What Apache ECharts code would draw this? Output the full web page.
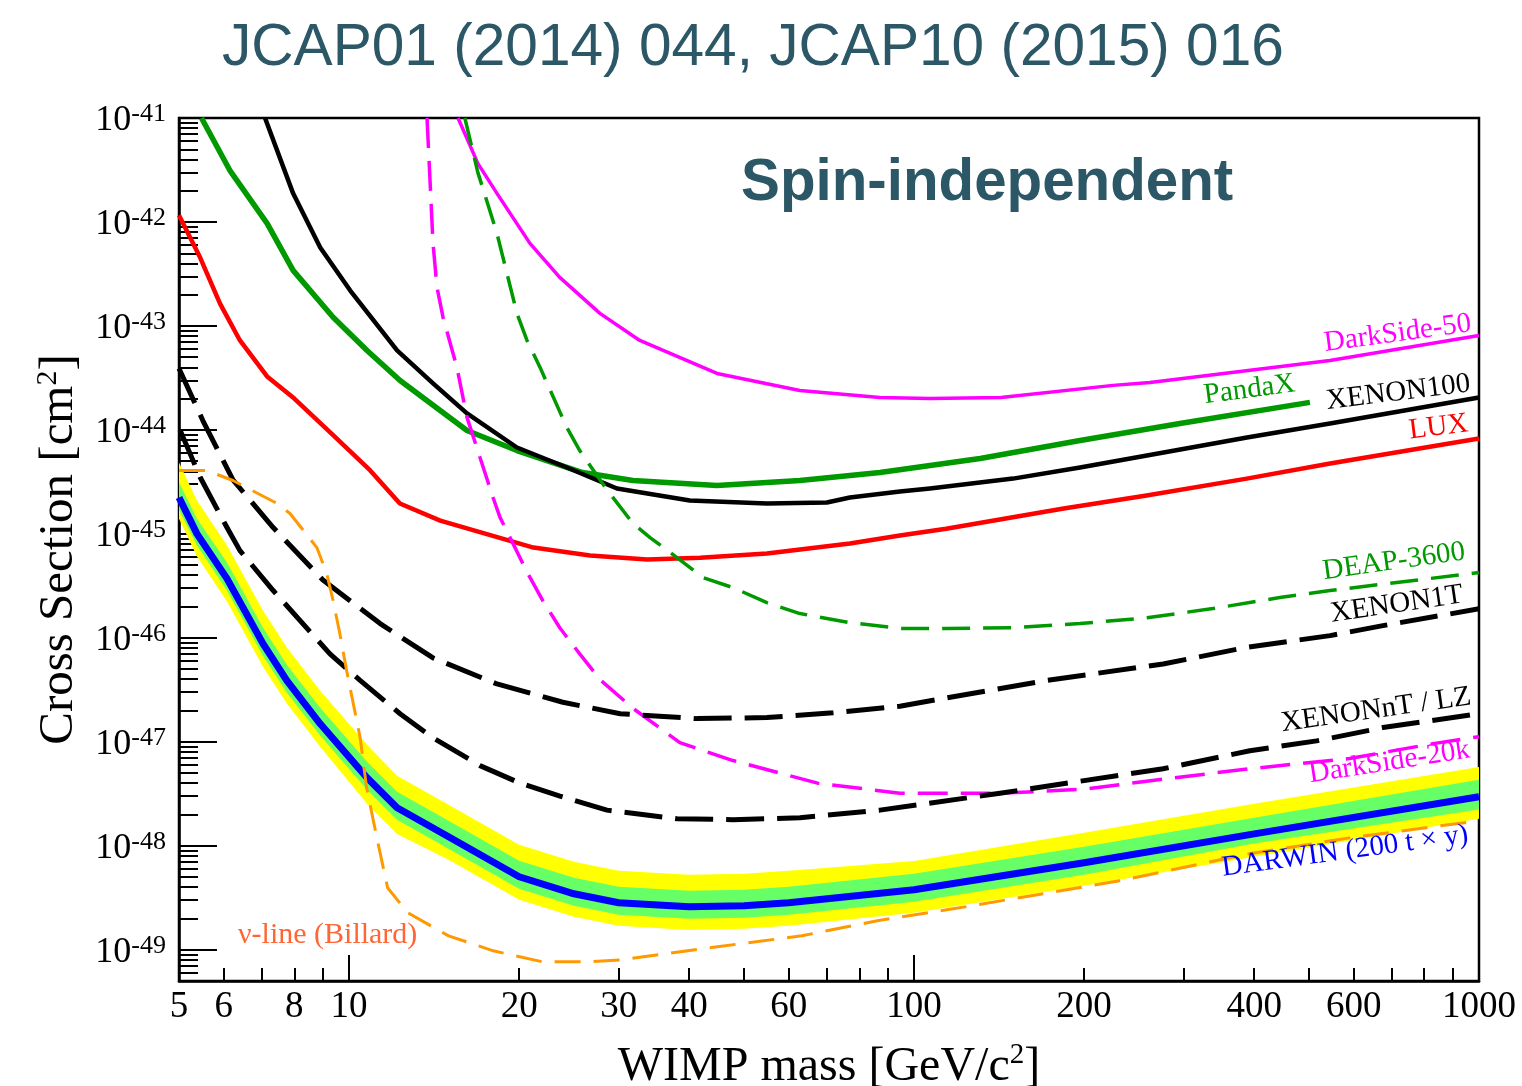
<!DOCTYPE html>
<html>
<head>
<meta charset="utf-8">
<script src="https://cdn.jsdelivr.net/npm/echarts@6/dist/echarts.min.js"></script>
<style>
  html, body { margin: 0; padding: 0; background: #ffffff; }
  #chart { width: 1522px; height: 1086px; }
</style>
</head>
<body>
<div id="chart"></div>
<script>
// ---- Exclusion limits: WIMP mass [GeV/c^2] vs. SI cross section [cm^2] ----
const luxMass  = [5, 5.45, 5.91, 6.41, 7.16, 8.0, 9.37, 10.9, 12.3, 14.5, 21.2, 26.7, 33.7, 41.8, 54.9, 77, 94.4, 114, 184, 258, 388, 545, 1000];
const luxSigma = [1.16e-42, 4.54e-43, 1.64e-43, 7.25e-44, 3.27e-44, 2.0e-44, 8.9e-45, 4.07e-45, 1.96e-45, 1.34e-45, 7.38e-46, 6.18e-46, 5.66e-46, 5.9e-46, 6.46e-46, 8.06e-46, 9.63e-46, 1.12e-45, 1.75e-45, 2.34e-45, 3.4e-45, 4.75e-45, 8.26e-45];

const xenon100Mass  = [7.10, 7.96, 8.89, 10.04, 12.16, 14.08, 16.17, 19.82, 24.3, 29.8, 40.1, 54.9, 70.1, 77.0, 94.4, 106.7, 149.7, 196.7, 258.4, 388.4, 544.7, 1000];
const xenon100Sigma = [1e-41, 1.885e-42, 5.69e-43, 2.20e-43, 5.81e-44, 2.80e-44, 1.44e-44, 6.77e-45, 4.35e-45, 2.73e-45, 2.09e-45, 1.96e-45, 2.0e-45, 2.24e-45, 2.55e-45, 2.73e-45, 3.40e-45, 4.35e-45, 5.67e-45, 8.45e-45, 1.15e-44, 2.05e-44];

const pandaxMass  = [5.48, 6.15, 7.16, 7.96, 9.37, 10.76, 12.31, 16.17, 19.82, 25.9, 31.8, 44.8, 62.8, 87.0, 130.9, 196.7, 295.5, 502];
const pandaxSigma = [1e-41, 3.14e-42, 9.69e-43, 3.42e-43, 1.21e-43, 5.81e-44, 2.99e-44, 9.87e-45, 6.33e-45, 3.89e-45, 3.26e-45, 2.92e-45, 3.26e-45, 3.89e-45, 5.31e-45, 7.91e-45, 1.15e-44, 1.84e-44];

const deapMass  = [16.03, 16.9, 18.27, 19.82, 20.65, 21.78, 24.3, 25.6, 28.1, 29.3, 31.8, 34.1, 38.05, 42.3, 47.8, 54.9, 62.8, 77.0, 94.4, 114.4, 149.7, 196.7, 258.4, 338, 444, 544.7, 1000];
const deapSigma = [1e-41, 3.0e-42, 7.77e-43, 1.32e-43, 7.25e-44, 3.99e-44, 1.05e-44, 6.33e-45, 3.05e-45, 2.24e-45, 1.26e-45, 9.21e-46, 5.91e-46, 3.80e-46, 3.04e-46, 2.18e-46, 1.71e-46, 1.40e-46, 1.23e-46, 1.23e-46, 1.25e-46, 1.37e-46, 1.56e-46, 1.91e-46, 2.44e-46, 2.85e-46, 4.24e-46];

const ds50Mass  = [15.59, 16.9, 18.27, 20.9, 23.6, 27.8, 32.7, 44.8, 62.8, 87.0, 106.7, 142.5, 225, 261.5, 544.7, 1000];
const ds50Sigma = [1e-41, 3.66e-42, 1.885e-42, 6.22e-43, 2.93e-43, 1.32e-43, 7.25e-44, 3.49e-44, 2.39e-44, 2.05e-44, 2.0e-44, 2.05e-44, 2.68e-44, 2.86e-44, 4.66e-44, 8.1e-44];

const ds20kMass  = [13.74, 14.08, 14.31, 14.67, 15.52, 16.17, 16.9, 18.0, 18.5, 19.5, 20.6, 22.0, 23.6, 25.6, 27.9, 31.8, 38.5, 47.8, 67.5, 94.4, 142.5, 200, 260, 392, 590, 830, 1000];
const ds20kSigma = [1e-41, 6.2e-43, 2.35e-43, 1.2e-43, 4.0e-44, 1.32e-44, 6.3e-45, 2.2e-45, 1.44e-45, 8.1e-46, 4.4e-46, 2.3e-46, 1.25e-46, 7.0e-47, 3.9e-47, 2.1e-47, 9.8e-48, 6.6e-48, 4.0e-48, 3.2e-48, 3.2e-48, 3.5e-48, 4.2e-48, 5.5e-48, 6.9e-48, 9.6e-48, 1.12e-47];

const xenon1tMass  = [5, 5.51, 6.23, 7.34, 8.99, 11.35, 14.08, 18.27, 23.9, 30.2, 41.3, 54.9, 71.9, 94.4, 172, 276, 388, 545, 676, 1000];
const xenon1tSigma = [3.9e-44, 1.23e-44, 3.3e-45, 1.15e-45, 3.6e-46, 1.37e-46, 6.4e-47, 3.6e-47, 2.4e-47, 1.86e-47, 1.67e-47, 1.71e-47, 1.9e-47, 2.2e-47, 3.9e-47, 5.6e-47, 8.1e-47, 1.05e-46, 1.31e-46, 1.9e-46];

const xenonntMass  = [5.02, 5.45, 6.08, 6.41, 7.34, 9.25, 10.46, 12.31, 14.08, 17.05, 20.07, 23.62, 28.6, 38.05, 47.8, 62.8, 87.0, 142, 276, 393, 516, 676, 1000];
const xenonntSigma = [1.0e-44, 3.5e-45, 1.15e-45, 6.9e-46, 2.85e-46, 7.0e-47, 3.9e-47, 1.86e-47, 1.09e-47, 5.9e-48, 4.0e-48, 3.0e-48, 2.2e-48, 1.82e-48, 1.78e-48, 1.86e-48, 2.2e-48, 3.2e-48, 5.5e-48, 8.2e-48, 1.02e-47, 1.37e-47, 1.86e-47];

// DARWIN (200 t x y) median sensitivity with 1 and 2 sigma bands
const darwinMass    = [5, 5.38, 6.08, 7.04, 7.76, 8.89, 10.76, 12.16, 15, 20, 25, 30, 40, 50, 60, 100, 200, 400, 1000];
const darwinMedian  = [2.24e-45, 1.0e-45, 3.71e-46, 8.8e-47, 3.87e-47, 1.49e-47, 4.51e-48, 2.32e-48, 1.22e-48, 5.03e-49, 3.45e-49, 2.83e-49, 2.59e-49, 2.65e-49, 2.83e-49, 3.77e-49, 6.86e-49, 1.30e-48, 2.96e-48];
const darwin2sUpper = [4.86e-45, 2.09e-45, 7.72e-46, 1.83e-46, 8.05e-47, 3.10e-47, 9.38e-48, 4.72e-48, 2.48e-48, 1.02e-48, 7.0e-49, 5.74e-49, 5.26e-49, 5.37e-49, 5.74e-49, 7.14e-49, 1.33e-48, 2.53e-48, 5.73e-48];
const darwin1sUpper = [3.12e-45, 1.40e-45, 5.29e-46, 1.25e-46, 5.52e-47, 2.13e-47, 6.43e-48, 3.31e-48, 1.74e-48, 7.17e-49, 4.92e-49, 4.03e-49, 3.69e-49, 3.77e-49, 4.03e-49, 5.37e-49, 9.78e-49, 1.86e-48, 4.32e-48];
const darwin1sLower = [1.71e-45, 7.72e-46, 2.85e-46, 6.74e-47, 2.97e-47, 1.15e-47, 3.46e-48, 1.78e-48, 9.36e-49, 3.86e-49, 2.65e-49, 2.17e-49, 1.98e-49, 2.03e-49, 2.17e-49, 2.89e-49, 5.26e-49, 1.05e-48, 2.23e-48];
const darwin2sLower = [1.40e-45, 6.05e-46, 2.23e-46, 5.28e-47, 2.33e-47, 8.97e-48, 2.53e-48, 1.30e-48, 7.33e-49, 3.02e-49, 2.07e-49, 1.70e-49, 1.55e-49, 1.59e-49, 1.70e-49, 2.27e-49, 4.13e-49, 7.85e-49, 1.82e-48];

// Coherent neutrino scattering floor
const nuMass  = [5, 5.6, 6.23, 7.46, 7.86, 8.77, 9.13, 9.37, 9.63, 9.9, 10.46, 10.74, 11.2, 11.7, 12.7, 15, 18.0, 22.0, 26.3, 30.3, 42.0, 63.3, 86.1, 120.3, 231, 392, 590, 1000];
const nuSigma = [4.07e-45, 4.07e-45, 3.26e-45, 1.96e-45, 1.57e-45, 7.38e-46, 4.15e-46, 2.28e-46, 1.10e-46, 4.84e-47, 1.10e-47, 3.62e-48, 1.19e-48, 3.94e-49, 2.27e-49, 1.36e-49, 9.76e-50, 7.65e-50, 7.65e-50, 7.99e-50, 1.02e-49, 1.36e-49, 1.90e-49, 2.53e-49, 4.60e-49, 8.37e-49, 1.19e-48, 1.74e-48];

// ---- Axis ranges, ticks and labels ----
const xRange = [5, 1000];
const xLabelValues = [5, 6, 8, 10, 20, 30, 40, 60, 100, 200, 400, 600, 1000];
const xMajorTicks  = [10, 100, 1000];
const xMinorTicks  = [6, 7, 8, 9, 20, 30, 40, 50, 60, 70, 80, 90, 200, 300, 400, 500, 600, 700, 800, 900];
const yRange = [5e-50, 1e-41];
const yExponents = [-49, -48, -47, -46, -45, -44, -43, -42, -41];

// Cross sections are plotted in units of 1e-50 cm^2 so the log axis
// works with ordinary magnitudes; labels are written back in cm^2.
const SIGMA_UNIT_EXP = -50;
const SIGMA_UNIT = 1e-50;
const toUnit = s => s / SIGMA_UNIT;

const yMajorTicks = yExponents.map(e => Math.pow(10, e - SIGMA_UNIT_EXP));
const yMinorTicks = [];
for (let e = 0; e <= 8; e++) {
  for (let k = 2; k <= 9; k++) {
    if (e === 0 && k < 6) continue;
    yMinorTicks.push(k * Math.pow(10, e));
  }
}

const SERIF = '"Liberation Serif", "Times New Roman", serif';
const SANS = '"Liberation Sans", Arial, sans-serif';
const TEAL = '#2b5766';

const pairs = (xs, ys) => xs.map((x, i) => [x, toUnit(ys[i])]);

function limitLine(name, xs, ys, color, width, dash, z) {
  return {
    name, type: 'line', xAxisIndex: 0, yAxisIndex: 0,
    data: pairs(xs, ys),
    showSymbol: false, symbol: 'none', smooth: false, clip: true, silent: true,
    z: z || 3,
    lineStyle: { color, width, type: dash || 'solid', cap: 'butt', join: 'round' }
  };
}

function band(name, upper, lower, color, z) {
  return {
    name, type: 'custom', xAxisIndex: 0, yAxisIndex: 0, z, clip: true, silent: true,
    data: [[100, 1e5]], encode: { x: 0, y: 1 },
    renderItem: (params, api) => {
      const pts = [];
      for (let i = 0; i < darwinMass.length; i++) pts.push(api.coord([darwinMass[i], toUnit(upper[i])]));
      for (let i = darwinMass.length - 1; i >= 0; i--) pts.push(api.coord([darwinMass[i], toUnit(lower[i])]));
      return { type: 'polygon', shape: { points: pts }, style: { fill: color, stroke: null } };
    }
  };
}

const deg = d => d * Math.PI / 180;
function curveLabel(text, x, y, color, angle, align, size) {
  return {
    type: 'text', x, y, rotation: deg(angle || 0), silent: true, z: 50,
    style: {
      text, fill: color, font: (size || 29) + 'px ' + SERIF,
      textAlign: align || 'right', align: align || 'right',
      textVerticalAlign: 'bottom', verticalAlign: 'bottom'
    }
  };
}

const supRich = (base, sup) => ({
  a: { fontFamily: SERIF, fontSize: base, color: '#000', lineHeight: base + 4 },
  s: { fontFamily: SERIF, fontSize: sup, color: '#000', verticalAlign: 'top', lineHeight: sup + 2 }
});

const chart = echarts.init(document.getElementById('chart'), null, { renderer: 'canvas' });

chart.setOption({
  animation: false,
  backgroundColor: '#ffffff',
  grid: {
    left: 179, right: 43, top: 118, bottom: 105,
    containLabel: false, outerBoundsMode: 'none',
    show: true, borderColor: '#000', borderWidth: 2.5, backgroundColor: 'transparent'
  },
  xAxis: [
    {
      type: 'log', logBase: 10, min: xRange[0], max: xRange[1], position: 'bottom',
      name: '{a|WIMP mass [GeV/c}{s|2}{a|]}', nameLocation: 'middle', nameGap: 60,
      nameTextStyle: { color: '#000', rich: supRich(48, 29) },
      axisLine: { show: true, lineStyle: { color: '#000', width: 2.5 } },
      axisTick: { show: true, inside: true, length: 26, customValues: xMajorTicks, lineStyle: { color: '#000', width: 2 } },
      axisLabel: { show: true, customValues: xLabelValues, margin: 8, color: '#000', fontFamily: SERIF, fontSize: 37, formatter: v => String(Math.round(v)) },
      splitLine: { show: false }, minorTick: { show: false }, minorSplitLine: { show: false }
    },
    {
      type: 'log', logBase: 10, min: xRange[0], max: xRange[1], position: 'bottom',
      axisLine: { show: false },
      axisTick: { show: true, inside: true, length: 13, customValues: xMinorTicks, lineStyle: { color: '#000', width: 2 } },
      axisLabel: { show: false }, splitLine: { show: false }
    }
  ],
  yAxis: [
    {
      type: 'log', logBase: 10, min: toUnit(yRange[0]), max: toUnit(yRange[1]), position: 'left',
      name: '{a|Cross Section [cm}{s|2}{a|]}', nameLocation: 'middle', nameRotate: 90, nameGap: 93,
      nameTextStyle: { color: '#000', rich: supRich(49, 30) },
      axisLine: { show: true, lineStyle: { color: '#000', width: 2.5 } },
      axisTick: { show: true, inside: true, length: 38, customValues: yMajorTicks, lineStyle: { color: '#000', width: 2 } },
      axisLabel: {
        show: true, customValues: yMajorTicks, margin: 13, padding: [5, 0, 0, 0],
        formatter: v => '{b|10}{s|' + (Math.round(Math.log10(v)) + SIGMA_UNIT_EXP) + '}',
        rich: {
          b: { fontFamily: SERIF, fontSize: 36, color: '#000', lineHeight: 38 },
          s: { fontFamily: SERIF, fontSize: 26, color: '#000', verticalAlign: 'top', lineHeight: 26 }
        }
      },
      splitLine: { show: false }, minorTick: { show: false }, minorSplitLine: { show: false }
    },
    {
      type: 'log', logBase: 10, min: toUnit(yRange[0]), max: toUnit(yRange[1]), position: 'left',
      axisLine: { show: false },
      axisTick: { show: true, inside: true, length: 19, customValues: yMinorTicks, lineStyle: { color: '#000', width: 2 } },
      axisLabel: { show: false }, splitLine: { show: false }
    }
  ],
  series: [
    band('DARWIN 2 sigma', darwin2sUpper, darwin2sLower, '#ffff00', 1),
    band('DARWIN 1 sigma', darwin1sUpper, darwin1sLower, '#66ff66', 1.5),
    limitLine('DARWIN', darwinMass, darwinMedian, '#0000ff', 7, 'solid', 2),
    limitLine('nu-line', nuMass, nuSigma, '#ff9900', 3, [26, 13], 4),
    limitLine('DarkSide-50', ds50Mass, ds50Sigma, '#ff00ff', 3.5),
    limitLine('PandaX', pandaxMass, pandaxSigma, '#009900', 5.5),
    limitLine('XENON100', xenon100Mass, xenon100Sigma, '#000000', 4.5),
    limitLine('LUX', luxMass, luxSigma, '#ff0000', 4.5),
    limitLine('DEAP-3600', deapMass, deapSigma, '#009900', 3.5, [28, 13]),
    limitLine('DarkSide-20k', ds20kMass, ds20kSigma, '#ff00ff', 3.5, [30, 13]),
    limitLine('XENON1T', xenon1tMass, xenon1tSigma, '#000000', 5, [38, 13]),
    limitLine('XENONnT / LZ', xenonntMass, xenonntSigma, '#000000', 5, [38, 13])
  ],
  graphic: [
    { type: 'text', x: 222, y: 49, silent: true,
      style: { text: 'JCAP01 (2014) 044, JCAP10 (2015) 016', fill: TEAL, font: '58.6px ' + SANS,
        textAlign: 'left', align: 'left', textVerticalAlign: 'middle', verticalAlign: 'middle' } },
    { type: 'text', x: 741, y: 184, silent: true,
      style: { text: 'Spin-independent', fill: TEAL, font: 'bold 58.3px ' + SANS,
        textAlign: 'left', align: 'left', textVerticalAlign: 'middle', verticalAlign: 'middle' } },
    curveLabel('DarkSide-50', 1473, 338, '#ff00ff', 7.7),
    curveLabel('PandaX', 1297, 398, '#009900', 7.6),
    curveLabel('XENON100', 1472, 398, '#000000', 7.1),
    curveLabel('LUX', 1470, 438, '#ff0000', 7),
    curveLabel('DEAP-3600', 1467, 566, '#009900', 8),
    curveLabel('XENON1T', 1465, 609, '#000000', 8.4),
    curveLabel('XENONnT / LZ', 1473, 711, '#000000', 8.1),
    curveLabel('DarkSide-20k', 1472, 764, '#ff00ff', 8.9),
    curveLabel('DARWIN (200 t \u00d7 y)', 1470, 849, '#0000ff', 7.8),
    curveLabel('\u03bd-line (Billard)', 238, 950, '#ff6633', 0, 'left', 30)
  ]
});
</script>
</body>
</html>
